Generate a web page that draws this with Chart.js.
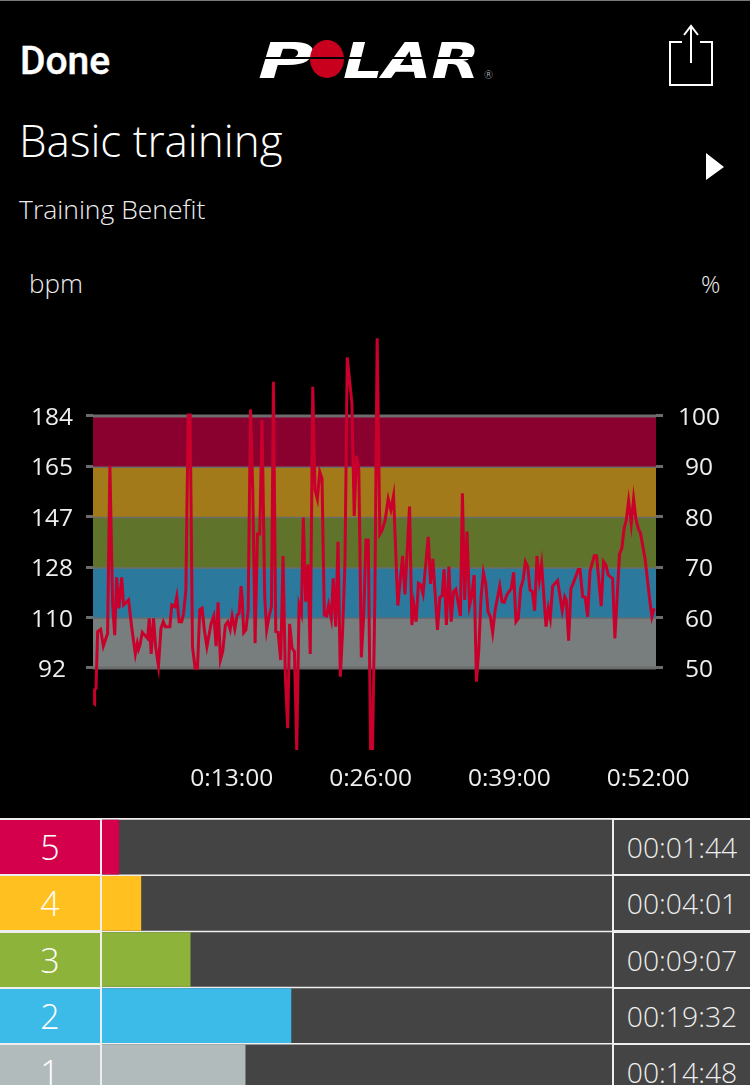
<!DOCTYPE html>
<html>
<head>
<meta charset="utf-8">
<title>Basic training</title>
<script src="https://cdn.jsdelivr.net/npm/chart.js@4"></script>
<style>
  html, body { margin: 0; background: #000; }
  body { position: relative; width: 750px; height: 1085px; overflow: hidden; color: #fff; font-family: "Open Sans", sans-serif; font-weight: 300; }
  .abs { position: absolute; white-space: nowrap; line-height: 1; }
  #topLine { left: 0; top: 0; width: 750px; height: 1px; background: #777; }
  #done { left: 20px; top: 38px; font: 500 39px Roboto, sans-serif; -webkit-text-stroke: 0.4px #fff; }
  #title { left: 19px; top: 118px; font-size: 44px; }
  #subtitle { left: 19px; top: 196px; font-size: 26.5px; color: #eee; }
  #bpmLabel { left: 29px; top: 270px; font-size: 26px; color: #eee; }
  #pctLabel { left: 701px; top: 272px; font-size: 24px; color: #eee; }
  #hrChart { position: absolute; left: 0; top: 300px; }
  #zones { position: absolute; left: 0; top: 818px; width: 750px; height: 267px; background: #eee; }
  #zoneChart { position: absolute; left: 102px; top: 1px; }
  .cell { position: absolute; height: 54px; line-height: 54px; text-align: center; }
  .zoneNo { left: 0; width: 100px; font-size: 34px; }
  .zoneTime { left: 614px; width: 136px; background: #444; font-size: 28.3px; color: #eee; }
</style>
</head>
<body>
<div class="abs" id="topLine"></div>
<div class="abs" id="done">Done</div>

<svg class="abs" style="left:250px;top:30px" width="260" height="60">
  <text x="8" y="48" font-family="DejaVu Sans" font-weight="bold" font-style="italic" font-size="49" fill="#fff" textLength="56" lengthAdjust="spacingAndGlyphs">P</text>
  <ellipse cx="77" cy="29" rx="17" ry="19" fill="#c8001e"/>
  <text x="93" y="48" font-family="DejaVu Sans" font-weight="bold" font-style="italic" font-size="49" fill="#fff" textLength="137" lengthAdjust="spacingAndGlyphs">LAR</text>
  <rect x="0" y="27" width="235" height="2" fill="#000"/>
  <text x="233" y="49" font-family="DejaVu Sans" font-size="11" fill="#ccc">®</text>
</svg>

<svg class="abs" style="left:660px;top:20px" width="60" height="72" fill="none" stroke="#fff" stroke-width="2">
  <path d="M 22 22 H 10 V 65 H 52 V 22 H 40"/>
  <path d="M 31 43 V 6 M 24 15 L 31 6 L 38 15"/>
</svg>

<div class="abs" id="title">Basic training</div>
<svg class="abs" style="left:700px;top:148px" width="30" height="36"><path d="M 6 5 L 24 19 L 6 32 Z" fill="#fff"/></svg>
<div class="abs" id="subtitle">Training Benefit</div>
<div class="abs" id="bpmLabel">bpm</div>
<div class="abs" id="pctLabel">%</div>

<canvas id="hrChart" width="750" height="510"></canvas>
<div id="zones">
  <canvas id="zoneChart" width="510" height="281"></canvas>
</div>

<script>
// heart rate trace
const hrSeconds = [
  8, 9, 17, 26, 43, 58, 82, 95, 110, 122, 133, 146, 161, 172, 200, 217, 238, 249, 256, 264,
  277, 307, 316, 327, 340, 352, 368, 382, 395, 406, 432, 443, 460, 471, 484, 498, 509, 522, 535, 546,
  559, 574, 587, 600, 613, 627, 640, 664, 679, 692, 703, 716, 729, 744, 758, 771, 782, 797, 810, 821,
  832, 838, 847, 859, 872, 885, 898, 911, 924, 937, 950, 965, 976, 989, 1003, 1014, 1027, 1040, 1055, 1068,
  1081, 1094, 1105, 1119, 1132, 1145, 1158, 1171, 1182, 1195, 1208, 1221, 1235, 1248, 1261, 1274, 1287, 1300, 1313, 1324,
  1339, 1350, 1364, 1377, 1390, 1403, 1416, 1429, 1455, 1468, 1481, 1494, 1508, 1521, 1534, 1547, 1560, 1571, 1584, 1597,
  1612, 1625, 1642, 1659, 1674, 1689, 1713, 1740, 1753, 1779, 1792, 1803, 1816, 1829, 1842, 1855, 1884, 1897, 1910, 1936,
  1949, 1962, 1973, 1986, 2000, 2013, 2026, 2039, 2065, 2076, 2089, 2102, 2116, 2129, 2142, 2155, 2168, 2181, 2194, 2207,
  2220, 2233, 2246, 2260, 2286, 2299, 2312, 2325, 2351, 2364, 2377, 2390, 2404, 2417, 2430, 2443, 2456, 2469, 2482, 2495,
  2508, 2521, 2546, 2559, 2570, 2583, 2611, 2637, 2651, 2660, 2673, 2686, 2699, 2727, 2737, 2752, 2766, 2780, 2793, 2817,
  2830, 2856, 2869, 2882, 2896, 2920, 2933, 2959, 2972, 2985, 2997, 3010, 3025, 3038, 3051, 3064, 3077, 3103, 3129, 3141,
  3154
];
const hrBpm = [
  78.5, 84, 84.6, 105.3, 106.1, 100, 104.6, 165.7, 115.6, 104, 125.1, 113.8, 125.1, 115, 116.8, 107.1, 97.1, 101, 98.9, 100.4,
  105, 102.8, 110.1, 97.1, 110.1, 99.8, 92.7, 106.5, 108.9, 107.1, 107.1, 115, 114.4, 118, 108.9, 108.9, 111.9, 120.5, 184.4, 184.4,
  99.8, 91.9, 91.9, 113.2, 113.8, 105.3, 99.8, 108.3, 111, 100, 116, 94.9, 98, 107.7, 108.9, 106.1, 111, 106.2, 111.3, 111.9,
  121.9, 118, 104.9, 105.9, 113.2, 186.4, 157, 101, 140.9, 140.9, 182.5, 118, 105.9, 110.7, 114.4, 196.5, 105.3, 105, 94.9, 132.9,
  88.8, 70, 108.1, 99.2, 98, 62.1, 115, 111.9, 146.9, 116.2, 129.8, 97.1, 194.7, 157, 153.7, 163.7, 161.2, 111.3, 111, 115,
  110.1, 124.7, 107.1, 138.1, 88.8, 105.9, 130.2, 205.4, 188.6, 147.5, 169.5, 164.3, 95.9, 110.7, 138.7, 138.7, 62.1, 62.1, 118, 212.4,
  140.9, 142.4, 146, 153.7, 149.7, 154.9, 114.8, 132.9, 118.9, 150.9, 107.7, 115, 108.9, 122.9, 122.3, 119, 139.9, 122.7, 131.8, 105.9,
  117.7, 118.4, 128, 107.7, 129, 108.9, 119.9, 120.8, 111, 155.8, 116.8, 141.8, 114.8, 118.6, 125.9, 87, 98.6, 118, 126.9, 122.9,
  112.6, 110.7, 104.9, 113.2, 121.9, 116.2, 116, 118.6, 121.1, 126.9, 108.9, 110.1, 121.3, 124.1, 130.8, 129, 120.5, 119.9, 112.9, 132.9,
  124.1, 130, 107.1, 113.8, 110.1, 121.9, 123.9, 112.9, 118, 116.8, 102, 121.1, 122.9, 128, 128, 118, 117.8, 110.7, 127.2, 133,
  133, 114.6, 130.8, 129.6, 125.9, 124.7, 102.8, 133.6, 135.7, 143, 146, 153, 144.6, 153.7, 146.4, 143, 141.2, 131.7, 116.8, 110.7,
  113.8
];

const sessionSeconds = 3164;
const timeTicks = [780, 1560, 2340, 3120];
const timeLabels = ['0:13:00', '0:26:00', '0:39:00', '0:52:00'];

// zone bands, top to bottom, in % of max heart rate
const pctTicks = [100, 90, 80, 70, 60, 50];
const bpmLabels = ['184', '165', '147', '128', '110', '92'];
const bandColors = ['#8a002f', '#a27a19', '#5f732a', '#2b7a9d', '#787e7e'];
const maxBpm = 184;
const bpmMin = 62.06, bpmMax = 213.2;

const zoneNames = ['5', '4', '3', '2', '1'];
const zoneTimes = ['00:01:44', '00:04:01', '00:09:07', '00:19:32', '00:14:48'];
const zoneColors = ['#d4004c', '#ffc020', '#8db33a', '#3cbbe8', '#b2bbbc'];

const tickFont = { family: '"Open Sans", sans-serif', size: 24.5, weight: 400 };
const tickColor = '#eee';
const lineGrey = '#6c6c6c';

const toSeconds = (t) => {
  const [h, m, s] = t.split(':').map(Number);
  return h * 3600 + m * 60 + s;
};

const bandLine = (pct) => [{ x: 0, y: pct }, { x: sessionSeconds, y: pct }];

// one filled line per band, hung from its top edge
const bandDatasets = bandColors.map((color, i) => ({
  data: bandLine(pctTicks[i]),
  yAxisID: 'pct',
  borderColor: lineGrey,
  borderWidth: 3,
  backgroundColor: color,
  fill: { value: pctTicks[i + 1] },
  pointRadius: 0
}));

new Chart(document.getElementById('hrChart'), {
  type: 'line',
  data: {
    datasets: [
      {
        data: hrSeconds.map((t, i) => ({ x: t, y: hrBpm[i] })),
        yAxisID: 'bpm',
        borderColor: '#c8002b',
        borderWidth: 3,
        pointRadius: 0,
        tension: 0,
        fill: false
      },
      {
        data: bandLine(pctTicks[pctTicks.length - 1]),
        yAxisID: 'pct',
        borderColor: lineGrey,
        borderWidth: 3,
        pointRadius: 0,
        fill: false
      },
      ...bandDatasets
    ]
  },
  options: {
    responsive: false,
    animation: false,
    layout: { padding: { top: 36 } },
    plugins: { legend: { display: false }, tooltip: { enabled: false } },
    scales: {
      x: {
        type: 'linear',
        min: 0,
        max: sessionSeconds,
        afterBuildTicks: (s) => { s.ticks = timeTicks.map(v => ({ value: v })); },
        afterFit: (s) => { s.height = 60; },
        grid: { display: false },
        border: { display: false },
        ticks: {
          color: tickColor,
          font: tickFont,
          maxRotation: 0,
          autoSkip: false,
          padding: 6,
          callback: (v) => timeLabels[timeTicks.indexOf(v)]
        }
      },
      bpm: {
        type: 'linear',
        position: 'left',
        min: bpmMin,
        max: bpmMax,
        afterBuildTicks: (s) => { s.ticks = pctTicks.map(p => ({ value: p * maxBpm / 100 })); },
        afterFit: (s) => { s.width = 93; },
        grid: { drawOnChartArea: false, color: lineGrey, lineWidth: 3, tickLength: 7 },
        border: { display: false },
        ticks: {
          color: tickColor,
          font: tickFont,
          crossAlign: 'center',
          padding: 13,
          labelOffset: 2,
          autoSkip: false,
          callback: (v, i) => bpmLabels[i]
        }
      },
      pct: {
        type: 'linear',
        position: 'right',
        min: bpmMin * 100 / maxBpm,
        max: bpmMax * 100 / maxBpm,
        afterBuildTicks: (s) => { s.ticks = pctTicks.map(p => ({ value: p })); },
        afterFit: (s) => { s.width = 94; },
        grid: { drawOnChartArea: false, color: lineGrey, lineWidth: 3, tickLength: 7 },
        border: { display: false },
        ticks: {
          color: tickColor,
          font: tickFont,
          crossAlign: 'center',
          padding: 15,
          labelOffset: 2,
          autoSkip: false,
          callback: (v) => String(v)
        }
      }
    }
  }
});

// zone rows: coloured number on the left, time on the right, bars in between
const zonesEl = document.getElementById('zones');
zoneNames.forEach((name, i) => {
  const top = 2 + Math.round(i * 56.25);
  zonesEl.insertAdjacentHTML('beforeend',
    `<div class="cell zoneNo" style="top:${top}px;background:${zoneColors[i]}">${name}</div>` +
    `<div class="cell zoneTime" style="top:${top}px">${zoneTimes[i]}</div>`);
});

new Chart(document.getElementById('zoneChart'), {
  type: 'bar',
  data: {
    labels: zoneNames,
    datasets: [
      { data: zoneTimes.map(toSeconds), backgroundColor: zoneColors, barThickness: 54, grouped: false, order: 0 },
      { data: zoneNames.map(() => sessionSeconds), backgroundColor: '#444', barThickness: 54, grouped: false, order: 1 }
    ]
  },
  options: {
    indexAxis: 'y',
    responsive: false,
    animation: false,
    layout: { padding: 0 },
    plugins: { legend: { display: false }, tooltip: { enabled: false } },
    scales: {
      x: { display: false, min: 0, max: sessionSeconds },
      y: { display: false }
    }
  }
});
</script>
</body>
</html>
